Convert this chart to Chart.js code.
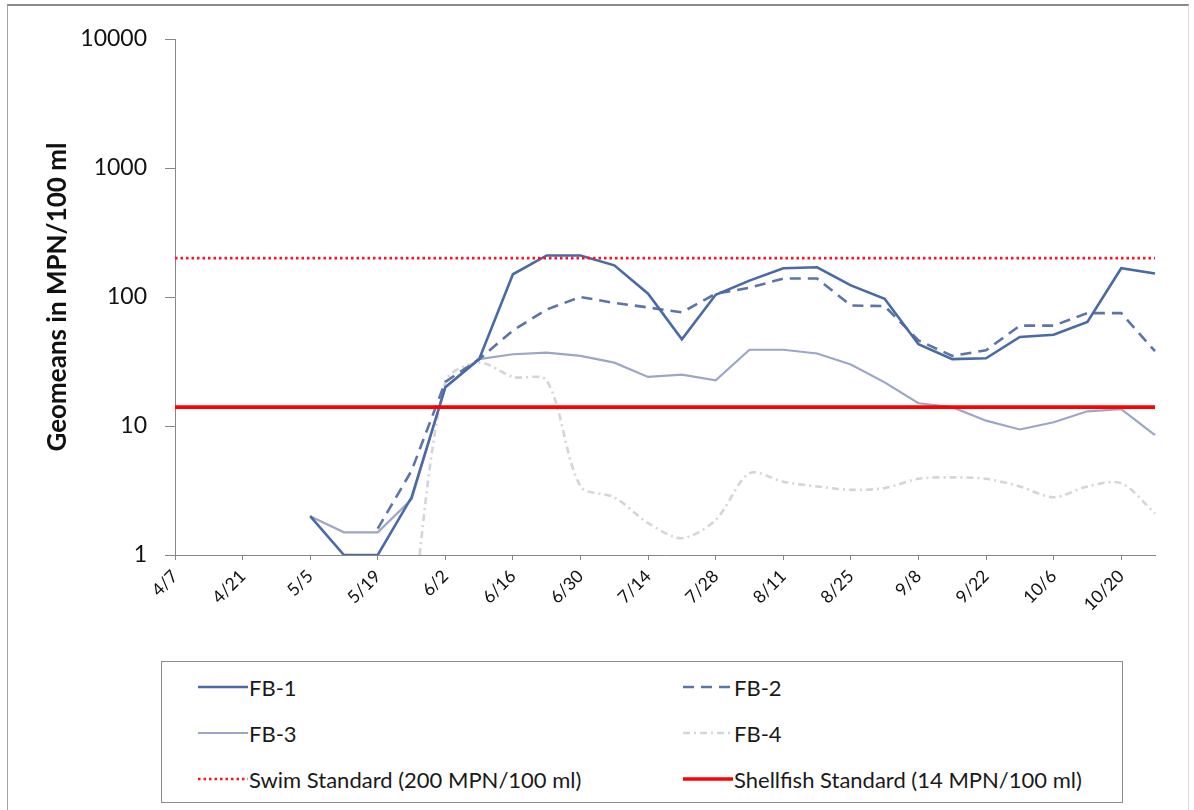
<!DOCTYPE html>
<html>
<head>
<meta charset="utf-8">
<script src="https://cdn.jsdelivr.net/npm/chart.js@4/dist/chart.umd.min.js"></script>
<style>
  html, body { margin: 0; padding: 0; background: #fff; }
  #wrap { position: relative; width: 1194px; height: 810px; overflow: hidden; font-family: Lato, "Open Sans", sans-serif; background: #fff; }
  #frame { position: absolute; left: 7px; top: 4px; width: 1182px; height: 830px; border-top: 2px solid #8a8a8a; border-left: 1px solid #a3a3a3; border-right: 1px solid #dcdcdc; box-sizing: border-box; }
  #plot { position: absolute; left: 0; top: 0; }
  #legend { position: absolute; left: 161px; top: 661px; width: 962px; height: 142px; border: 1px solid #8c8c8c; box-sizing: border-box; background: #fff; }
  .item { position: absolute; height: 30px; display: flex; align-items: center; white-space: nowrap; color: #1a1a1a; font-size: 22px; }
  .item svg { display: block; margin-right: 1px; }
</style>
</head>
<body>
<div id="wrap">
  <div id="frame"></div>
  <canvas id="plot" width="1194" height="660"></canvas>
  <div id="legend"></div>
</div>
<script>
// Weekly sampling dates
const weeks = ['4/7','4/14','4/21','4/28','5/5','5/12','5/19','5/26','6/2','6/9',
               '6/16','6/23','6/30','7/7','7/14','7/21','7/28','8/4','8/11','8/18',
               '8/25','9/1','9/8','9/15','9/22','9/29','10/6','10/13','10/20','10/27'];

// Geometric means per station (MPN/100 ml)
const fb1 = [null, null, null, null, 2.0, 1.0, 1.0, 2.8, 20, 33,
             150, 210, 210, 176, 106, 47, 104, 134, 167, 170,
             123, 97, 43, 33, 33.5, 49, 51, 64, 167, 152];
const fb2 = [null, null, null, null, null, null, 1.6, 4.5, 22, 33,
             55, 80, 100, 90, 83, 76, 106, 118, 139, 139,
             86, 85, 46, 35, 38.6, 60, 60, 75, 75, 38];
const fb3 = [null, null, null, null, 2.0, 1.5, 1.5, 2.7, 20, 33,
             36, 37, 35, 31, 24, 25, 22.6, 39, 39, 36.5,
             30, 21.8, 15, 14, 11, 9.4, 10.7, 13, 13.5, 8.5];
const fb4 = [null, null, null, null, null, null, null, 0.3, 22, 31,
             24, 22.5, 3.4, 2.8, 1.77, 1.35, 1.87, 4.3, 3.7, 3.4,
             3.2, 3.3, 3.9, 4.0, 3.9, 3.4, 2.8, 3.4, 3.6, 2.1];

// Regulatory standards (MPN/100 ml)
const swimStandard = 200;
const shellfishStandard = 14;

// Axis ticks
const yTickValues = [1, 10, 100, 1000, 10000];
const yTitle = 'Geomeans in MPN/100 ml';

const seriesNames = ['FB-1', 'FB-2', 'FB-3', 'FB-4',
                     'Swim Standard (200 MPN/100 ml)', 'Shellfish Standard (14 MPN/100 ml)'];

const styles = [
  { color: '#4a6aa5', width: 2.6, dash: [],           tension: 0 },
  { color: '#5d74a8', width: 2.6, dash: [11, 7],      tension: 0 },
  { color: '#9ca6c7', width: 2.2, dash: [],           tension: 0 },
  { color: '#d2d5dc', width: 2.6, dash: [7, 4, 2, 4], tension: 0.3 },
  { color: '#ff1020', width: 2.6, dash: [2.5, 3],     tension: 0 },
  { color: '#ff0000', width: 3.6, dash: [],           tension: 0 }
];

const seriesData = [
  fb1, fb2, fb3, fb4,
  weeks.map(() => swimStandard),
  weeks.map(() => shellfishStandard)
];
const drawOrder = [1, 2, 3, 4, 0, 0];

const datasets = seriesNames.map((name, i) => ({
  label: name,
  data: seriesData[i],
  borderColor: styles[i].color,
  backgroundColor: styles[i].color,
  borderWidth: styles[i].width,
  borderDash: styles[i].dash,
  tension: styles[i].tension,
  pointRadius: 0,
  pointHoverRadius: 0,
  fill: false,
  spanGaps: false,
  order: drawOrder[i]
}));

const axisGray = '#878787';

new Chart(document.getElementById('plot'), {
  type: 'line',
  data: { labels: weeks, datasets },
  options: {
    responsive: false,
    animation: false,
    layout: { padding: { top: 39, right: 39, left: 0, bottom: 0 } },
    plugins: { legend: { display: false }, tooltip: { enabled: false } },
    scales: {
      x: {
        type: 'category',
        offset: false,
        grid: { drawOnChartArea: false, drawTicks: true, tickLength: 5, color: axisGray },
        border: { color: axisGray, width: 1 },
        ticks: {
          autoSkip: false, maxRotation: 45, minRotation: 45, padding: 6,
          color: '#111', font: { family: 'Lato', size: 17.5 },
          callback: (v, i) => (i % 2 === 0 ? weeks[i] : null)
        },
        afterFit: s => { s.height = 105; }
      },
      y: {
        type: 'logarithmic',
        min: yTickValues[0],
        max: yTickValues[yTickValues.length - 1],
        afterBuildTicks: s => { s.ticks = yTickValues.map(v => ({ value: v })); },
        afterFit: s => { s.width = 175; },
        grid: { drawOnChartArea: false, drawTicks: true, tickLength: 10, color: axisGray },
        border: { color: axisGray, width: 1 },
        ticks: {
          padding: 18, color: '#111', font: { family: 'Lato', size: 23 },
          callback: v => String(v)
        },
        title: {
          display: true, text: yTitle, color: '#111',
          font: { family: 'Lato', size: 26, weight: 'bold' },
          padding: { top: 42, bottom: 0 }
        }
      }
    }
  }
});

// Legend box: two columns, three rows
const legend = document.getElementById('legend');
const colX = [36, 521];
const rowY = [10, 56, 102];
const legendSlots = [[0, 0], [1, 0], [0, 1], [1, 1], [0, 2], [1, 2]];
seriesNames.forEach((name, i) => {
  const [c, r] = legendSlots[i];
  const st = styles[i];
  const item = document.createElement('div');
  item.className = 'item';
  item.style.left = colX[c] + 'px';
  item.style.top = rowY[r] + 'px';
  const svgNS = 'http://www.w3.org/2000/svg';
  const svg = document.createElementNS(svgNS, 'svg');
  svg.setAttribute('width', '50');
  svg.setAttribute('height', '10');
  const line = document.createElementNS(svgNS, 'line');
  line.setAttribute('x1', '0'); line.setAttribute('y1', '5');
  line.setAttribute('x2', '50'); line.setAttribute('y2', '5');
  line.setAttribute('stroke', st.color);
  line.setAttribute('stroke-width', String(st.width));
  if (st.dash.length) line.setAttribute('stroke-dasharray', st.dash.join(' '));
  svg.appendChild(line);
  const label = document.createElement('span');
  label.textContent = name;
  item.appendChild(svg);
  item.appendChild(label);
  legend.appendChild(item);
});
</script>
</body>
</html>
